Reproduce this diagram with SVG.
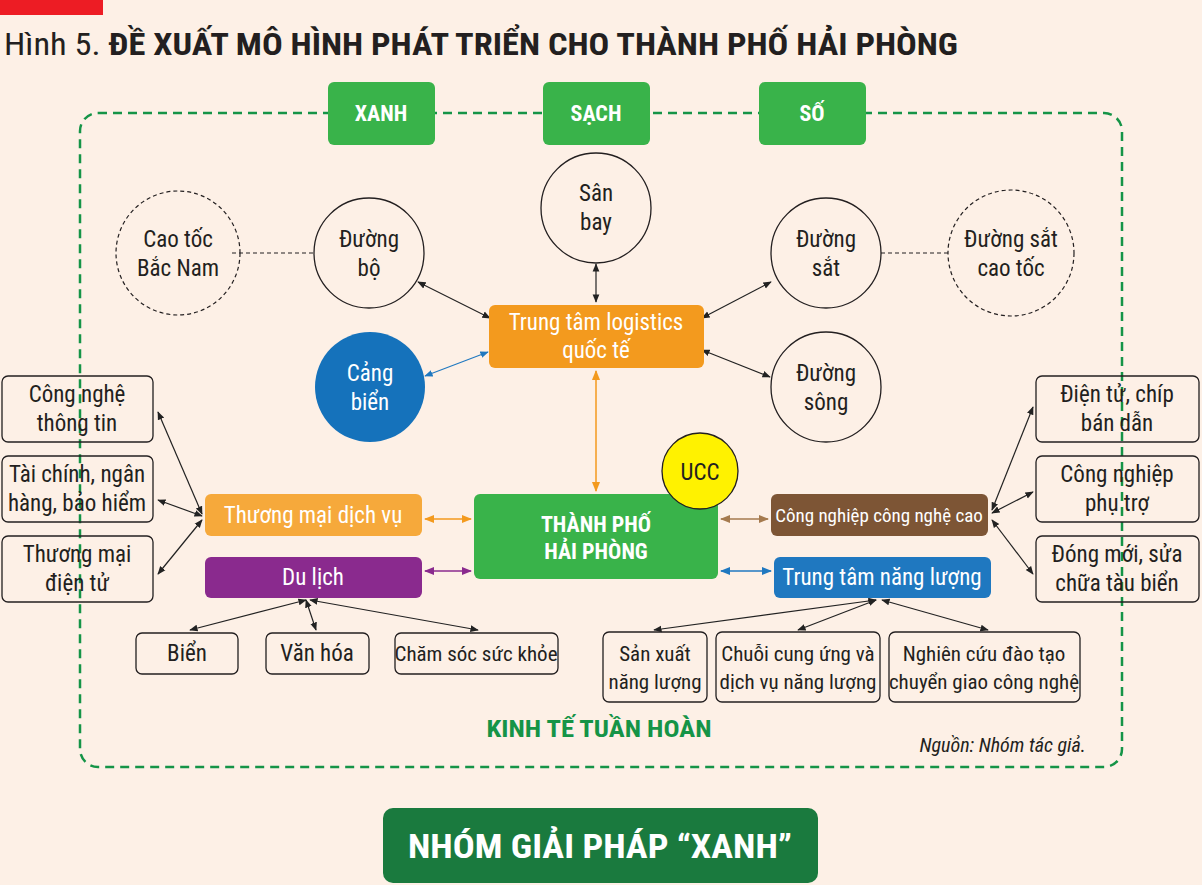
<svg xmlns="http://www.w3.org/2000/svg" width="1202" height="885" viewBox="0 0 1202 885">
<defs>
<marker id="ak" viewBox="0 0 10 10" refX="9" refY="5" markerWidth="7" markerHeight="7" orient="auto-start-reverse"><path d="M0,1 L10,5 L0,9 Z" fill="#222"/></marker>
<marker id="ao" viewBox="0 0 10 10" refX="9" refY="5" markerWidth="7" markerHeight="7" orient="auto-start-reverse"><path d="M0,1 L10,5 L0,9 Z" fill="#f39a1e"/></marker>
<marker id="ab" viewBox="0 0 10 10" refX="9" refY="5" markerWidth="7" markerHeight="7" orient="auto-start-reverse"><path d="M0,1 L10,5 L0,9 Z" fill="#1f78c0"/></marker>
<marker id="ap" viewBox="0 0 10 10" refX="9" refY="5" markerWidth="7" markerHeight="7" orient="auto-start-reverse"><path d="M0,1 L10,5 L0,9 Z" fill="#8a2a8e"/></marker>
<marker id="an" viewBox="0 0 10 10" refX="9" refY="5" markerWidth="7" markerHeight="7" orient="auto-start-reverse"><path d="M0,1 L10,5 L0,9 Z" fill="#a57a4e"/></marker>
</defs>
<style>
text{font-family:"Liberation Sans Narrow","Roboto Condensed","Roboto","Liberation Sans",sans-serif;fill:#231f20;text-anchor:middle}
.t{font-size:23px}
.w{fill:#fff}
.b{font-weight:bold}
.box{fill:none;stroke:#231f20;stroke-width:1.3}
.c{fill:none;stroke:#231f20;stroke-width:1.3}
.cd{fill:none;stroke:#231f20;stroke-width:1.2;stroke-dasharray:4 3}
.k{stroke:#222;stroke-width:1.2;fill:none;marker-start:url(#ak);marker-end:url(#ak)}
.g{fill:#39b34a}
</style>
<rect width="1202" height="885" fill="#fdf0e6"/>
<rect x="0" y="0" width="103" height="15" fill="#ed1c24"/>
<text x="4" y="55" style="text-anchor:start;font-size:31px" textLength="954" lengthAdjust="spacingAndGlyphs">Hình 5. <tspan class="b">ĐỀ XUẤT MÔ HÌNH PHÁT TRIỂN CHO THÀNH PHỐ HẢI PHÒNG</tspan></text>
<rect x="80" y="113" width="1042" height="654" rx="18" fill="none" stroke="#159447" stroke-width="2.5" stroke-dasharray="9 6"/>
<g id="connectors">
<line x1="232" y1="253" x2="314" y2="253" class="cd"/>
<line x1="881" y1="253" x2="948" y2="253" class="cd"/>
<line x1="596" y1="264" x2="596" y2="302" class="k"/>
<line x1="418" y1="282" x2="490" y2="318" class="k"/>
<line x1="771" y1="282" x2="702" y2="318" class="k"/>
<line x1="770" y1="377" x2="702" y2="350" class="k"/>
<line x1="488" y1="352" x2="425" y2="376" stroke="#1f78c0" stroke-width="1.2" marker-start="url(#ab)" marker-end="url(#ab)"/>
<line x1="596" y1="371" x2="596" y2="491" stroke="#f39a1e" stroke-width="1.5" marker-start="url(#ao)" marker-end="url(#ao)"/>
<line x1="425" y1="519" x2="471" y2="519" stroke="#f39a1e" stroke-width="1.5" marker-start="url(#ao)" marker-end="url(#ao)"/>
<line x1="425" y1="571" x2="471" y2="571" stroke="#8a2a8e" stroke-width="1.5" marker-start="url(#ap)" marker-end="url(#ap)"/>
<line x1="721" y1="519" x2="768" y2="519" stroke="#a57a4e" stroke-width="1.5" marker-start="url(#an)" marker-end="url(#an)"/>
<line x1="721" y1="571" x2="771" y2="571" stroke="#1f78c0" stroke-width="1.5" marker-start="url(#ab)" marker-end="url(#ab)"/>
<line x1="158" y1="412" x2="202" y2="514" class="k"/>
<line x1="158" y1="500" x2="202" y2="516" class="k"/>
<line x1="158" y1="574" x2="202" y2="520" class="k"/>
<line x1="1033" y1="407" x2="992" y2="510" class="k"/>
<line x1="1033" y1="492" x2="992" y2="513" class="k"/>
<line x1="1033" y1="574" x2="992" y2="520" class="k"/>
<line x1="306" y1="600" x2="190" y2="630" class="k"/>
<line x1="306" y1="600" x2="316" y2="630" class="k"/>
<line x1="310" y1="600" x2="478" y2="630" class="k"/>
<line x1="876" y1="600" x2="654" y2="630" class="k"/>
<line x1="876" y1="600" x2="798" y2="630" class="k"/>
<line x1="882" y1="600" x2="988" y2="630" class="k"/>
</g>
<g id="xanh"><rect x="328" y="82" width="107" height="63" rx="6" class="g"/><text x="381" y="121" class="w b" style="font-size:22px">XANH</text></g>
<g id="sach"><rect x="543" y="82" width="107" height="63" rx="6" class="g"/><text x="596" y="121" class="w b" style="font-size:22px">SẠCH</text></g>
<g id="so"><rect x="759" y="82" width="107" height="63" rx="6" class="g"/><text x="812" y="121" class="w b" style="font-size:22px">SỐ</text></g>
<g id="sanbay"><circle cx="596" cy="208" r="55" class="c" fill="none"/><text x="596" y="201" class="t">Sân</text><text x="596" y="230" class="t">bay</text></g>
<g id="duongbo"><circle cx="369" cy="253" r="55" class="c"/><text x="369" y="247" class="t">Đường</text><text x="369" y="276" class="t">bộ</text></g>
<g id="caotoc"><circle cx="178" cy="253" r="62" class="cd"/><text x="178" y="247" class="t">Cao tốc</text><text x="178" y="276" class="t">Bắc Nam</text></g>
<g id="duongsat"><circle cx="826" cy="253" r="55" class="c"/><text x="826" y="247" class="t">Đường</text><text x="826" y="276" class="t">sắt</text></g>
<g id="dsct"><circle cx="1011" cy="253" r="63" class="cd"/><text x="1011" y="247" class="t">Đường sắt</text><text x="1011" y="276" class="t">cao tốc</text></g>
<g id="cangbien"><circle cx="370" cy="387" r="55" fill="#1572bb"/><text x="370" y="381" class="t w">Cảng</text><text x="370" y="410" class="t w">biển</text></g>
<g id="duongsong"><circle cx="826" cy="387" r="55" class="c"/><text x="826" y="381" class="t">Đường</text><text x="826" y="410" class="t">sông</text></g>
<g id="logistics"><rect x="489" y="305" width="215" height="63" rx="6" fill="#f39a1e"/><text x="596" y="330" class="t w">Trung tâm logistics</text><text x="596" y="358" class="t w">quốc tế</text></g>
<g id="center"><rect x="474" y="494" width="244" height="85" rx="6" fill="#39b34a"/><text x="596" y="532" class="w b" style="font-size:22px">THÀNH PHỐ</text><text x="596" y="559" class="w b" style="font-size:22px">HẢI PHÒNG</text></g>
<g id="ucc"><circle cx="700" cy="471" r="38" fill="#fff200" stroke="#231f20" stroke-width="1.3"/><text x="700" y="480" class="t">UCC</text></g>
<g id="tmdv"><rect x="205" y="494" width="217" height="42" rx="6" fill="#f6a93b"/><text x="313" y="523" class="t w">Thương mại dịch vụ</text></g>
<g id="dulich"><rect x="205" y="557" width="217" height="41" rx="6" fill="#8a2a8e"/><text x="313" y="585" class="t w">Du lịch</text></g>
<g id="cncnc"><rect x="771" y="494" width="217" height="42" rx="6" fill="#7d5535"/><text x="879" y="522" class="w" style="font-size:19px">Công nghiệp công nghệ cao</text></g>
<g id="ttnl"><rect x="774" y="557" width="217" height="41" rx="6" fill="#1f78c0"/><text x="882" y="585" class="t w">Trung tâm năng lượng</text></g>
<g id="cntt"><rect x="2" y="376" width="151" height="66" rx="6" class="box"/><text x="77" y="402" class="t">Công nghệ</text><text x="77" y="431" class="t">thông tin</text></g>
<g id="tc"><rect x="2" y="456" width="151" height="66" rx="6" class="box"/><text x="77" y="482" class="t">Tài chính, ngân</text><text x="77" y="511" class="t">hàng, bảo hiểm</text></g>
<g id="tmdt"><rect x="2" y="536" width="151" height="66" rx="6" class="box"/><text x="77" y="562" class="t">Thương mại</text><text x="77" y="591" class="t">điện tử</text></g>
<g id="dt"><rect x="1036" y="376" width="163" height="66" rx="6" class="box"/><text x="1117" y="402" class="t">Điện tử, chíp</text><text x="1117" y="431" class="t">bán dẫn</text></g>
<g id="cnpt"><rect x="1036" y="456" width="163" height="66" rx="6" class="box"/><text x="1117" y="482" class="t">Công nghiệp</text><text x="1117" y="511" class="t">phụ trợ</text></g>
<g id="dm"><rect x="1036" y="536" width="163" height="66" rx="6" class="box"/><text x="1117" y="562" class="t">Đóng mới, sửa</text><text x="1117" y="591" class="t">chữa tàu biển</text></g>
<g id="bien"><rect x="136" y="633" width="102" height="41" rx="6" class="box"/><text x="187" y="661" class="t">Biển</text></g>
<g id="vanhoa"><rect x="266" y="633" width="103" height="41" rx="6" class="box"/><text x="317" y="661" class="t">Văn hóa</text></g>
<g id="chamsoc"><rect x="395" y="633" width="163" height="41" rx="6" class="box"/><text x="476" y="661" class="t" style="font-size:21px">Chăm sóc sức khỏe</text></g>
<g id="sxnl"><rect x="603" y="632" width="104" height="70" rx="6" class="box"/><text x="655" y="661" class="t" style="font-size:21px">Sản xuất</text><text x="655" y="689" class="t" style="font-size:21px">năng lượng</text></g>
<g id="ccu"><rect x="716" y="632" width="164" height="70" rx="6" class="box"/><text x="798" y="661" class="t" style="font-size:21px">Chuỗi cung ứng và</text><text x="798" y="689" class="t" style="font-size:21px">dịch vụ năng lượng</text></g>
<g id="nc"><rect x="889" y="632" width="191" height="70" rx="6" class="box"/><text x="984" y="661" class="t" style="font-size:21px">Nghiên cứu đào tạo</text><text x="984" y="689" class="t" style="font-size:21px">chuyển giao công nghệ</text></g>
<text x="599" y="737" class="b" style="font-size:24px;fill:#159447" textLength="225" lengthAdjust="spacingAndGlyphs">KINH TẾ TUẦN HOÀN</text>
<text x="1086" y="752" style="font-size:20px;font-style:italic;text-anchor:end">Nguồn: Nhóm tác giả.</text>
<g id="button"><rect x="383" y="808" width="435" height="75" rx="10" fill="#1a7a3e"/><text x="600" y="858" class="w b" style="font-size:34px" textLength="384" lengthAdjust="spacingAndGlyphs">NHÓM GIẢI PHÁP “XANH”</text></g>
</svg>
